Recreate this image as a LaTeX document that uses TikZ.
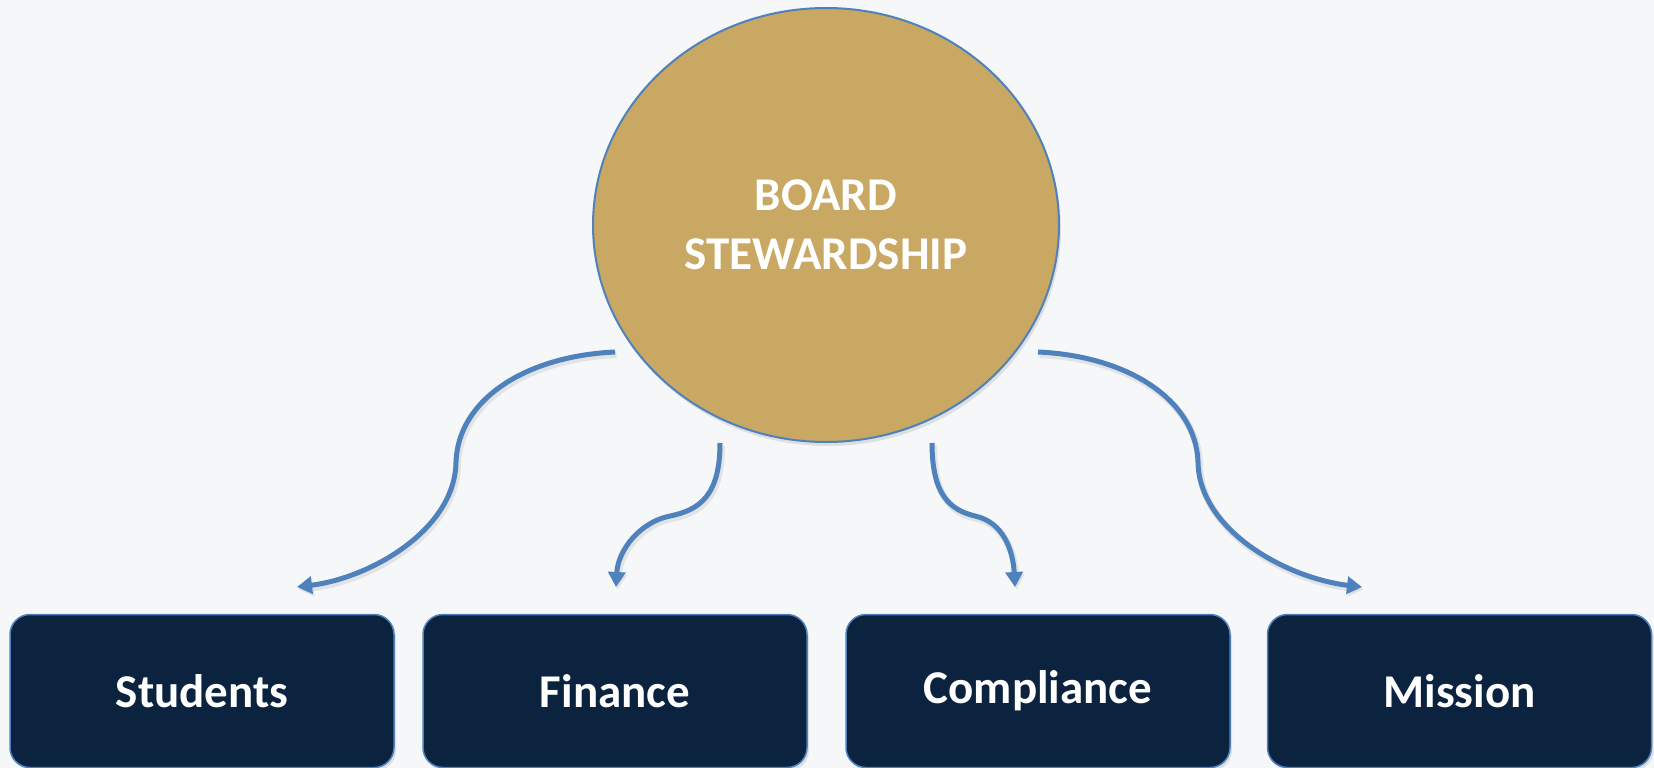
\documentclass[tikz,border=0pt]{standalone}
\usepackage{fontspec}
\setmainfont{Carlito}
\usetikzlibrary{shapes.geometric,arrows.meta,shadows}
\definecolor{bgc}{HTML}{F5F7F9}
\definecolor{goldc}{HTML}{C8A862}
\definecolor{navyc}{HTML}{0C2340}
\definecolor{bluec}{HTML}{4F81BD}
\tikzset{
  hub/.style={ellipse, draw=bluec, line width=2pt, fill=goldc, inner sep=0pt,
    minimum width=466pt, minimum height=434pt, text=white, align=center,
    font=\fontsize{47}{59}\selectfont\bfseries,
    drop shadow={shadow xshift=2pt, shadow yshift=-4pt, opacity=0.2}},
  areabox/.style={rectangle, rounded corners=20pt, draw=bluec, line width=1.5pt,
    fill=navyc, minimum width=384pt, minimum height=153pt, text=white,
    font=\fontsize{47}{56}\selectfont\bfseries,
    drop shadow={shadow xshift=2pt, shadow yshift=-3pt, opacity=0.2}},
  flow/.style={draw=bluec, line width=5pt, -{Triangle[length=15pt,width=17pt]},
    preaction={draw=black, opacity=0.08, line width=7pt,
      transform canvas={xshift=1.5pt, yshift=-2.5pt}}}
}
\begin{document}
\begin{tikzpicture}[x=1pt, y=-1pt]
\fill[bgc] (0,0) rectangle (1654,768);
\useasboundingbox (0,0) rectangle (1654,768);

\node[hub] (board) at (826,225) {BOARD\\STEWARDSHIP};

\node[areabox] (students) at (202,691) {Students};
\node[areabox] (finance) at (615,691) {Finance};
\node[areabox] (compliance) at (1038,691) {Compliance};
\node[areabox] (mission) at (1459.5,691) {Mission};

\coordinate (s1) at (615,352);
\coordinate (m1) at (456,462);
\coordinate (e1) at (297,587);
\coordinate (s2) at (720,443);
\coordinate (m2) at (670,516);
\coordinate (e2) at (616,587);
\coordinate (s3) at (932,443);
\coordinate (m3) at (975,516);
\coordinate (e3) at (1015,587);
\coordinate (s4) at (1038,352);
\coordinate (m4) at (1198,462);
\coordinate (e4) at (1362,587);

\draw[flow] (s1) .. controls (525,356) and (458,400) .. (m1)
  .. controls (455,530) and (370,578) .. (e1);
\draw[flow] (s2) .. controls (720,495) and (700,510) .. (m2)
  .. controls (640,522) and (618,550) .. (e2);
\draw[flow] (s3) .. controls (932,495) and (950,510) .. (m3)
  .. controls (1003,522) and (1013,550) .. (e3);
\draw[flow] (s4) .. controls (1128,356) and (1196,400) .. (m4)
  .. controls (1199,530) and (1286,578) .. (e4);
\end{tikzpicture}
\end{document}
